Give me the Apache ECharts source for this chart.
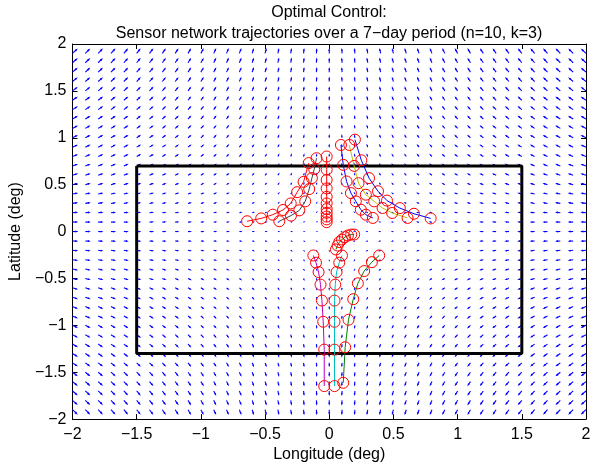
<!DOCTYPE html>
<html>
<head>
<meta charset="utf-8">
<script src="https://cdn.jsdelivr.net/npm/echarts@6/dist/echarts.min.js"></script>
<style>html,body{margin:0;padding:0;background:#fff}#chart{width:600px;height:468px}</style>
</head>
<body>
<div id="chart"></div>
<script>
// current field: grid points and the arrow components read per column / per row
var gridX = [-2, -1.9, -1.8, -1.7, -1.6, -1.5, -1.4, -1.3, -1.2, -1.1, -1, -0.9, -0.8, -0.7, -0.6, -0.5, -0.4, -0.3, -0.2, -0.1, 0,
             0.1, 0.2, 0.3, 0.4, 0.5, 0.6, 0.7, 0.8, 0.9, 1, 1.1, 1.2, 1.3, 1.4, 1.5, 1.6, 1.7, 1.8, 1.9, 2];
var gridY = gridX.slice();
var uCol = [0.031, 0.029, 0.028, 0.026, 0.025, 0.023, 0.022, 0.020, 0.019, 0.017, 0.016, 0.014, 0.012, 0.011, 0.009, 0.008, 0.006, 0.005, 0.003, 0.002, 0,
            -0.002, -0.003, -0.005, -0.006, -0.008, -0.009, -0.011, -0.012, -0.014, -0.016, -0.017, -0.019, -0.020, -0.022, -0.023, -0.025, -0.026, -0.028, -0.029, -0.031];
var vRow = [-0.042, -0.040, -0.038, -0.036, -0.034, -0.032, -0.029, -0.027, -0.025, -0.023, -0.021, -0.019, -0.017, -0.015, -0.013, -0.011, -0.008, -0.006, -0.004, -0.002, 0,
            0.002, 0.004, 0.006, 0.008, 0.011, 0.013, 0.015, 0.017, 0.019, 0.021, 0.023, 0.025, 0.027, 0.029, 0.032, 0.034, 0.036, 0.038, 0.040, 0.042];

// region box
var boxX = [-1.5, 1.5, 1.5, -1.5, -1.5];
var boxY = [0.7, 0.7, -1.3, -1.3, 0.7];

// sensor trajectories [lon, lat]
var trajBlue1 = [[0.34, 0.145], [0.285, 0.18], [0.246, 0.233], [0.207, 0.322], [0.169, 0.41], [0.135, 0.534], [0.109, 0.711], [0.091, 0.923]];
var trajGreen1 = [[0.389, -0.255], [0.332, -0.326], [0.272, -0.421], [0.223, -0.552], [0.187, -0.721], [0.150, -0.941], [0.124, -1.234], [0.109, -1.613]];
var trajRed1 = [[-0.02, 0.10], [-0.02, 0.13], [-0.02, 0.16], [-0.02, 0.20], [-0.02, 0.24], [-0.02, 0.30], [-0.02, 0.37], [-0.02, 0.46], [-0.02, 0.55], [-0.02, 0.66], [-0.02, 0.80]];
var trajCyan = [[0.099, -0.255], [0.078, -0.332], [0.057, -0.432], [0.047, -0.566], [0.041, -0.736], [0.041, -0.962], [0.041, -1.259], [0.041, -1.648]];
var trajMagenta = [[-0.124, -0.255], [-0.103, -0.332], [-0.083, -0.432], [-0.068, -0.566], [-0.057, -0.736], [-0.047, -0.962], [-0.039, -1.259], [-0.039, -1.648]];
var trajYellow = [[0.61, 0.145], [0.49, 0.198], [0.415, 0.251], [0.35, 0.322], [0.285, 0.393], [0.228, 0.516], [0.194, 0.70], [0.156, 0.923]];
var trajGray = [[-0.389, 0.11], [-0.298, 0.17], [-0.233, 0.226], [-0.187, 0.322], [-0.156, 0.453], [-0.135, 0.57], [-0.117, 0.665], [-0.099, 0.782]];
var trajBlue2 = [[0.79, 0.14], [0.66, 0.19], [0.55, 0.25], [0.45, 0.33], [0.38, 0.43], [0.31, 0.57], [0.25, 0.76], [0.2, 0.98]];
var trajGreen2 = [[0.052, -0.191], [0.065, -0.149], [0.078, -0.113], [0.099, -0.085], [0.122, -0.060], [0.145, -0.042], [0.171, -0.032], [0.194, -0.032]];
var trajRed2 = [[-0.64, 0.11], [-0.53, 0.14], [-0.44, 0.18], [-0.36, 0.23], [-0.30, 0.30], [-0.25, 0.42], [-0.20, 0.53], [-0.16, 0.73]];

var trajList = [
    [trajBlue1, '#0000ff'], [trajGreen1, '#008000'], [trajRed1, '#ff0000'], [trajCyan, '#00bfbf'],
    [trajMagenta, '#bf00bf'], [trajYellow, '#bfbf00'], [trajGray, '#404040'], [trajBlue2, '#0000ff'],
    [trajGreen2, '#008000'], [trajRed2, '#ff0000']
];

var FONT = 'Liberation Sans, Arial, Helvetica, sans-serif';
var fmt = function (v) { return String(v).replace('-', '\u2212'); };

var quiverData = [];
for (var i = 0; i < gridX.length; i++) {
    for (var j = 0; j < gridY.length; j++) {
        quiverData.push([gridX[i], gridY[j], uCol[i], vRow[j]]);
    }
}

function renderArrow(params, api) {
    var x = api.value(0), y = api.value(1);
    var p0 = api.coord([x, y]);
    var p1 = api.coord([x + api.value(2), y + api.value(3)]);
    var dx = p1[0] - p0[0], dy = p1[1] - p0[1];
    var a = 0.33, b = 0.33;
    var h1 = [p1[0] - a * (dx + b * dy), p1[1] - a * (dy - b * dx)];
    var h2 = [p1[0] - a * (dx - b * dy), p1[1] - a * (dy + b * dx)];
    var st = { stroke: '#0000ff', lineWidth: 1.1, fill: null };
    return {
        type: 'group',
        children: [
            { type: 'polyline', shape: { points: [p0, p1] }, style: st },
            { type: 'polyline', shape: { points: [h1, p1, h2] }, style: st }
        ]
    };
}

var series = [{
    type: 'custom',
    renderItem: renderArrow,
    data: quiverData,
    clip: true,
    silent: true,
    z: 1
}, {
    type: 'line',
    data: boxX.map(function (v, k) { return [v, boxY[k]]; }),
    showSymbol: false,
    lineStyle: { color: '#000', width: 3 },
    silent: true,
    z: 2
}];

trajList.forEach(function (t) {
    series.push({
        type: 'line',
        data: t[0],
        symbol: 'circle',
        symbolSize: 11,
        showSymbol: true,
        lineStyle: { color: t[1], width: 1 },
        itemStyle: { color: 'rgba(0,0,0,0)', borderColor: '#ff0000', borderWidth: 1 },
        silent: true,
        z: 3
    });
});

var axisCommon = {
    type: 'value', min: -2, max: 2, interval: 0.5,
    splitLine: { show: false },
    axisLine: { show: true, onZero: false, lineStyle: { color: '#000', width: 1 } },
    axisTick: { show: true, inside: true, length: 5, lineStyle: { color: '#000' } }
};

var option = {
    animation: false,
    backgroundColor: '#fff',
    textStyle: { fontFamily: FONT },
    grid: { left: 72, right: 14, top: 44, bottom: 47 },
    graphic: [{
        type: 'text', x: 329, y: 2,
        style: {
            text: 'Optimal Control:\nSensor network trajectories over a 7\u2212day period (n=10, k=3)',
            font: '16px ' + FONT, fill: '#000', align: 'center', lineHeight: 21
        }
    }],
    xAxis: [
        Object.assign({}, axisCommon, {
            position: 'bottom',
            axisLabel: { color: '#000', fontSize: 16, fontFamily: FONT, margin: 7, formatter: fmt },
            name: 'Longitude (deg)', nameLocation: 'middle', nameGap: 25,
            nameTextStyle: { color: '#000', fontSize: 16, fontFamily: FONT }
        }),
        Object.assign({}, axisCommon, { position: 'top', axisLabel: { show: false } })
    ],
    yAxis: [
        Object.assign({}, axisCommon, {
            position: 'left',
            axisLabel: { color: '#000', fontSize: 16, fontFamily: FONT, margin: 6, formatter: fmt },
            name: 'Latitude (deg)', nameLocation: 'middle', nameGap: 44,
            nameTextStyle: { color: '#000', fontSize: 16, fontFamily: FONT }
        }),
        Object.assign({}, axisCommon, { position: 'right', axisLabel: { show: false } })
    ],
    series: series
};

var myChart = echarts.init(document.getElementById('chart'));
myChart.setOption(option);
</script>
</body>
</html>
